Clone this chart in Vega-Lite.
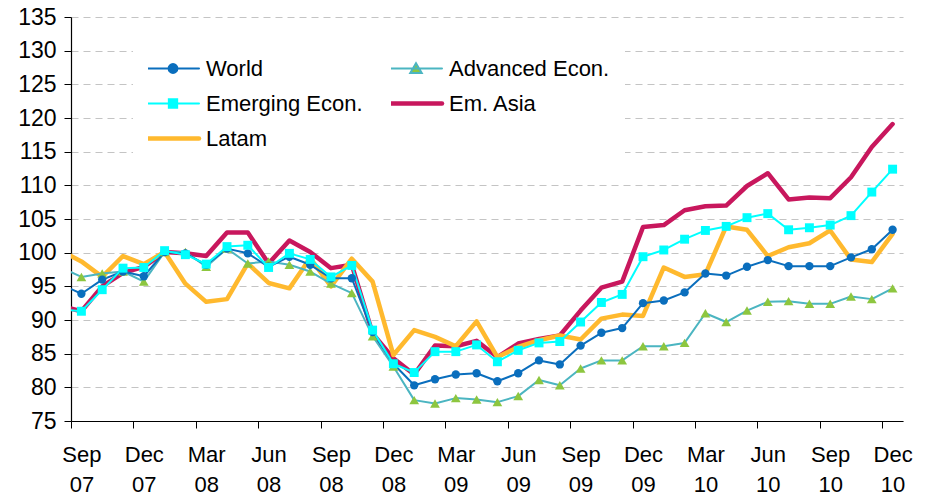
{
  "$schema": "https://vega.github.io/schema/vega-lite/v6.json",
  "width": 832,
  "height": 404,
  "autosize": {"type": "none"},
  "padding": {"left": 71, "top": 17, "right": 23, "bottom": 74},
  "background": "white",
  "config": {"view": {"stroke": null}, "font": "Liberation Sans"},
  "data": {
    "values": [
      {"t": -1, "month": "Aug 07", "World": 95.3, "Advanced": 97.8, "Emerging": 91.6, "EmAsia": 92.1, "Latam": 100.3},
      {"t": 0, "month": "Sep 07", "World": 93.9, "Advanced": 96.4, "Emerging": 91.3, "EmAsia": 91.3, "Latam": 98.7},
      {"t": 1, "month": "Oct 07", "World": 96.0, "Advanced": 96.9, "Emerging": 94.5, "EmAsia": 95.0, "Latam": 96.4},
      {"t": 2, "month": "Nov 07", "World": 97.2, "Advanced": 97.2, "Emerging": 97.7, "EmAsia": 97.0, "Latam": 99.5},
      {"t": 3, "month": "Dec 07", "World": 96.5, "Advanced": 95.7, "Emerging": 97.8, "EmAsia": 97.9, "Latam": 98.3},
      {"t": 4, "month": "Jan 08", "World": 100.1, "Advanced": 100.1, "Emerging": 100.3, "EmAsia": 100.1, "Latam": 100.1},
      {"t": 5, "month": "Feb 08", "World": 99.9, "Advanced": 100.1, "Emerging": 99.7, "EmAsia": 99.9, "Latam": 95.4},
      {"t": 6, "month": "Mar 08", "World": 98.2, "Advanced": 97.9, "Emerging": 98.3, "EmAsia": 99.5, "Latam": 92.7},
      {"t": 7, "month": "Apr 08", "World": 100.6, "Advanced": 100.6, "Emerging": 100.9, "EmAsia": 103.0, "Latam": 93.1},
      {"t": 8, "month": "May 08", "World": 99.9, "Advanced": 98.4, "Emerging": 101.1, "EmAsia": 103.0, "Latam": 98.4},
      {"t": 9, "month": "Jun 08", "World": 97.9, "Advanced": 98.7, "Emerging": 97.8, "EmAsia": 98.4, "Latam": 95.5},
      {"t": 10, "month": "Jul 08", "World": 99.4, "Advanced": 98.2, "Emerging": 99.9, "EmAsia": 101.8, "Latam": 94.7},
      {"t": 11, "month": "Aug 08", "World": 98.2, "Advanced": 97.2, "Emerging": 99.0, "EmAsia": 100.1, "Latam": 99.2},
      {"t": 12, "month": "Sep 08", "World": 96.2, "Advanced": 95.4, "Emerging": 96.4, "EmAsia": 97.7, "Latam": 95.0},
      {"t": 13, "month": "Oct 08", "World": 96.2, "Advanced": 94.0, "Emerging": 98.1, "EmAsia": 98.2, "Latam": 99.1},
      {"t": 14, "month": "Nov 08", "World": 88.2, "Advanced": 87.6, "Emerging": 88.5, "EmAsia": 88.0, "Latam": 95.7},
      {"t": 15, "month": "Dec 08", "World": 83.5, "Advanced": 83.1, "Emerging": 83.5, "EmAsia": 84.3, "Latam": 84.8},
      {"t": 16, "month": "Jan 09", "World": 80.3, "Advanced": 78.1, "Emerging": 82.2, "EmAsia": 81.9, "Latam": 88.5},
      {"t": 17, "month": "Feb 09", "World": 81.2, "Advanced": 77.6, "Emerging": 85.3, "EmAsia": 86.2, "Latam": 87.5},
      {"t": 18, "month": "Mar 09", "World": 81.9, "Advanced": 78.4, "Emerging": 85.3, "EmAsia": 86.1, "Latam": 86.1},
      {"t": 19, "month": "Apr 09", "World": 82.1, "Advanced": 78.2, "Emerging": 86.3, "EmAsia": 86.9, "Latam": 89.8},
      {"t": 20, "month": "May 09", "World": 80.9, "Advanced": 77.8, "Emerging": 83.8, "EmAsia": 84.5, "Latam": 84.5},
      {"t": 21, "month": "Jun 09", "World": 82.1, "Advanced": 78.7, "Emerging": 85.5, "EmAsia": 86.5, "Latam": 86.0},
      {"t": 22, "month": "Jul 09", "World": 84.0, "Advanced": 81.1, "Emerging": 86.6, "EmAsia": 87.2, "Latam": 87.0},
      {"t": 23, "month": "Aug 09", "World": 83.4, "Advanced": 80.3, "Emerging": 86.8, "EmAsia": 87.7, "Latam": 87.7},
      {"t": 24, "month": "Sep 09", "World": 86.2, "Advanced": 82.8, "Emerging": 89.7, "EmAsia": 91.4, "Latam": 87.1},
      {"t": 25, "month": "Oct 09", "World": 88.1, "Advanced": 84.0, "Emerging": 92.6, "EmAsia": 94.8, "Latam": 90.2},
      {"t": 26, "month": "Nov 09", "World": 88.8, "Advanced": 84.0, "Emerging": 93.8, "EmAsia": 95.7, "Latam": 90.8},
      {"t": 27, "month": "Dec 09", "World": 92.5, "Advanced": 86.1, "Emerging": 99.4, "EmAsia": 103.8, "Latam": 90.6},
      {"t": 28, "month": "Jan 10", "World": 92.9, "Advanced": 86.1, "Emerging": 100.4, "EmAsia": 104.1, "Latam": 97.8},
      {"t": 29, "month": "Feb 10", "World": 94.1, "Advanced": 86.6, "Emerging": 102.0, "EmAsia": 106.3, "Latam": 96.4},
      {"t": 30, "month": "Mar 10", "World": 96.9, "Advanced": 91.0, "Emerging": 103.3, "EmAsia": 106.9, "Latam": 96.8},
      {"t": 31, "month": "Apr 10", "World": 96.6, "Advanced": 89.7, "Emerging": 103.9, "EmAsia": 107.0, "Latam": 103.9},
      {"t": 32, "month": "May 10", "World": 97.9, "Advanced": 91.4, "Emerging": 105.2, "EmAsia": 109.9, "Latam": 103.4},
      {"t": 33, "month": "Jun 10", "World": 98.9, "Advanced": 92.7, "Emerging": 105.8, "EmAsia": 111.8, "Latam": 99.5},
      {"t": 34, "month": "Jul 10", "World": 98.0, "Advanced": 92.8, "Emerging": 103.4, "EmAsia": 107.9, "Latam": 100.8},
      {"t": 35, "month": "Aug 10", "World": 98.0, "Advanced": 92.4, "Emerging": 103.7, "EmAsia": 108.2, "Latam": 101.4},
      {"t": 36, "month": "Sep 10", "World": 98.0, "Advanced": 92.4, "Emerging": 104.1, "EmAsia": 108.1, "Latam": 103.3},
      {"t": 37, "month": "Oct 10", "World": 99.3, "Advanced": 93.5, "Emerging": 105.5, "EmAsia": 111.2, "Latam": 99.0},
      {"t": 38, "month": "Nov 10", "World": 100.5, "Advanced": 93.1, "Emerging": 109.0, "EmAsia": 115.7, "Latam": 98.6},
      {"t": 39, "month": "Dec 10", "World": 103.4, "Advanced": 94.7, "Emerging": 112.4, "EmAsia": 119.1, "Latam": 102.8}
    ]
  },
  "transform": [
    {"fold": ["EmAsia", "Latam", "Advanced", "World", "Emerging"], "as": ["series", "value"]}
  ],
  "encoding": {
    "x": {
      "field": "t",
      "type": "quantitative",
      "scale": {"domain": [-0.5, 39.5], "nice": false, "zero": false},
      "axis": {
        "title": null,
        "grid": false,
        "values": [-0.5, 2.5, 5.5, 8.5, 11.5, 14.5, 17.5, 20.5, 23.5, 26.5, 29.5, 32.5, 35.5, 38.5],
        "labelExpr": "[['Sep','Dec','Mar','Jun'][round((datum.value + 0.5) / 3) % 4], ['07','07','08','08','08','08','09','09','09','09','10','10','10','10'][round((datum.value + 0.5) / 3)]]",
        "labelOffset": 10.4,
        "labelPadding": 16,
        "labelLineHeight": 30,
        "labelFontSize": 22,
        "labelColor": "#000000",
        "labelFlush": false,
        "labelOverlap": false,
        "labelBound": false,
        "tickSize": 7,
        "tickColor": "#000000",
        "domainColor": "#000000",
        "domainWidth": 1.2
      }
    },
    "y": {
      "field": "value",
      "type": "quantitative",
      "scale": {"domain": [75, 135], "nice": false, "zero": false},
      "axis": {
        "title": null,
        "values": [75, 80, 85, 90, 95, 100, 105, 110, 115, 120, 125, 130, 135],
        "grid": true,
        "gridDash": [7, 5],
        "gridColor": "#c4c4c4",
        "gridWidth": 1.2,
        "labelFontSize": 23,
        "labelColor": "#000000",
        "labelPadding": 8,
        "tickSize": 7,
        "tickColor": "#000000",
        "domainColor": "#000000",
        "domainWidth": 1.2
      }
    }
  },
  "layer": [
    {
      "transform": [{"filter": {"field": "series", "oneOf": ["EmAsia", "Latam"]}}],
      "mark": {"type": "line", "clip": true, "strokeJoin": "round", "strokeCap": "round", "strokeWidth": 4.5},
      "encoding": {
        "color": {
          "field": "series",
          "type": "nominal",
          "scale": {
            "domain": ["World", "Emerging", "Latam", "Advanced", "EmAsia"],
            "range": ["#0A6EBD", "#00FFFF", "#FFB92E", "#4BB5C1", "#C8175D"]
          },
          "legend": {
            "orient": "none",
            "legendX": 62,
            "legendY": 22,
            "columns": 2,
            "title": null,
            "fillColor": "white",
            "strokeColor": null,
            "padding": 15,
            "labelFontSize": 22,
            "labelColor": "#000000",
            "labelLimit": 0,
            "labelOffset": 22,
            "symbolOffset": 14,
            "symbolSize": 2704,
            "rowPadding": 6,
            "columnPadding": 28,
            "clipHeight": 29,
            "labelExpr": "datum.label == 'Advanced' ? 'Advanced Econ.' : datum.label == 'Emerging' ? 'Emerging Econ.' : datum.label == 'EmAsia' ? 'Em. Asia' : datum.label",
            "encode": {
              "symbols": {
                "update": {
                  "shape": {"signal": "datum.value == 'World' ? 'M-1,0H1M-0.17,0A0.17,0.17,0,1,1,0.17,0A0.17,0.17,0,1,1,-0.17,0Z' : datum.value == 'Advanced' ? 'M-1,0H1M0,-0.2L0.22,0.17L-0.22,0.17Z' : datum.value == 'Emerging' ? 'M-1,0H1M-0.16,-0.16H0.16V0.16H-0.16Z' : 'M-1,0H1'"},
                  "size": {"value": 2704},
                  "fill": {"signal": "datum.value == 'World' ? '#0A6EBD' : datum.value == 'Advanced' ? '#8DC63F' : datum.value == 'Emerging' ? '#00FFFF' : 'transparent'"},
                  "strokeWidth": {"signal": "datum.value == 'EmAsia' || datum.value == 'Latam' ? 4.5 : 2"},
                  "strokeCap": {"value": "round"},
                  "opacity": {"value": 1}
                }
              }
            }
          }
        }
      }
    },
    {
      "transform": [{"filter": {"field": "series", "oneOf": ["Advanced", "World", "Emerging"]}}],
      "mark": {"type": "line", "clip": true, "strokeJoin": "round", "strokeCap": "round", "strokeWidth": 2},
      "encoding": {
        "color": {"field": "series", "type": "nominal"}
      }
    },
    {
      "transform": [{"filter": {"field": "series", "equal": "Advanced"}}],
      "mark": {"type": "point", "shape": "triangle-up", "size": 95, "filled": true, "fill": "#8DC63F", "opacity": 1, "clip": true}
    },
    {
      "transform": [{"filter": {"field": "series", "equal": "World"}}],
      "mark": {"type": "point", "shape": "circle", "size": 70, "filled": true, "fill": "#0A6EBD", "opacity": 1, "clip": true}
    },
    {
      "transform": [{"filter": {"field": "series", "equal": "Emerging"}}],
      "mark": {"type": "point", "shape": "square", "size": 80, "filled": true, "fill": "#00FFFF", "opacity": 1, "clip": true}
    }
  ]
}
